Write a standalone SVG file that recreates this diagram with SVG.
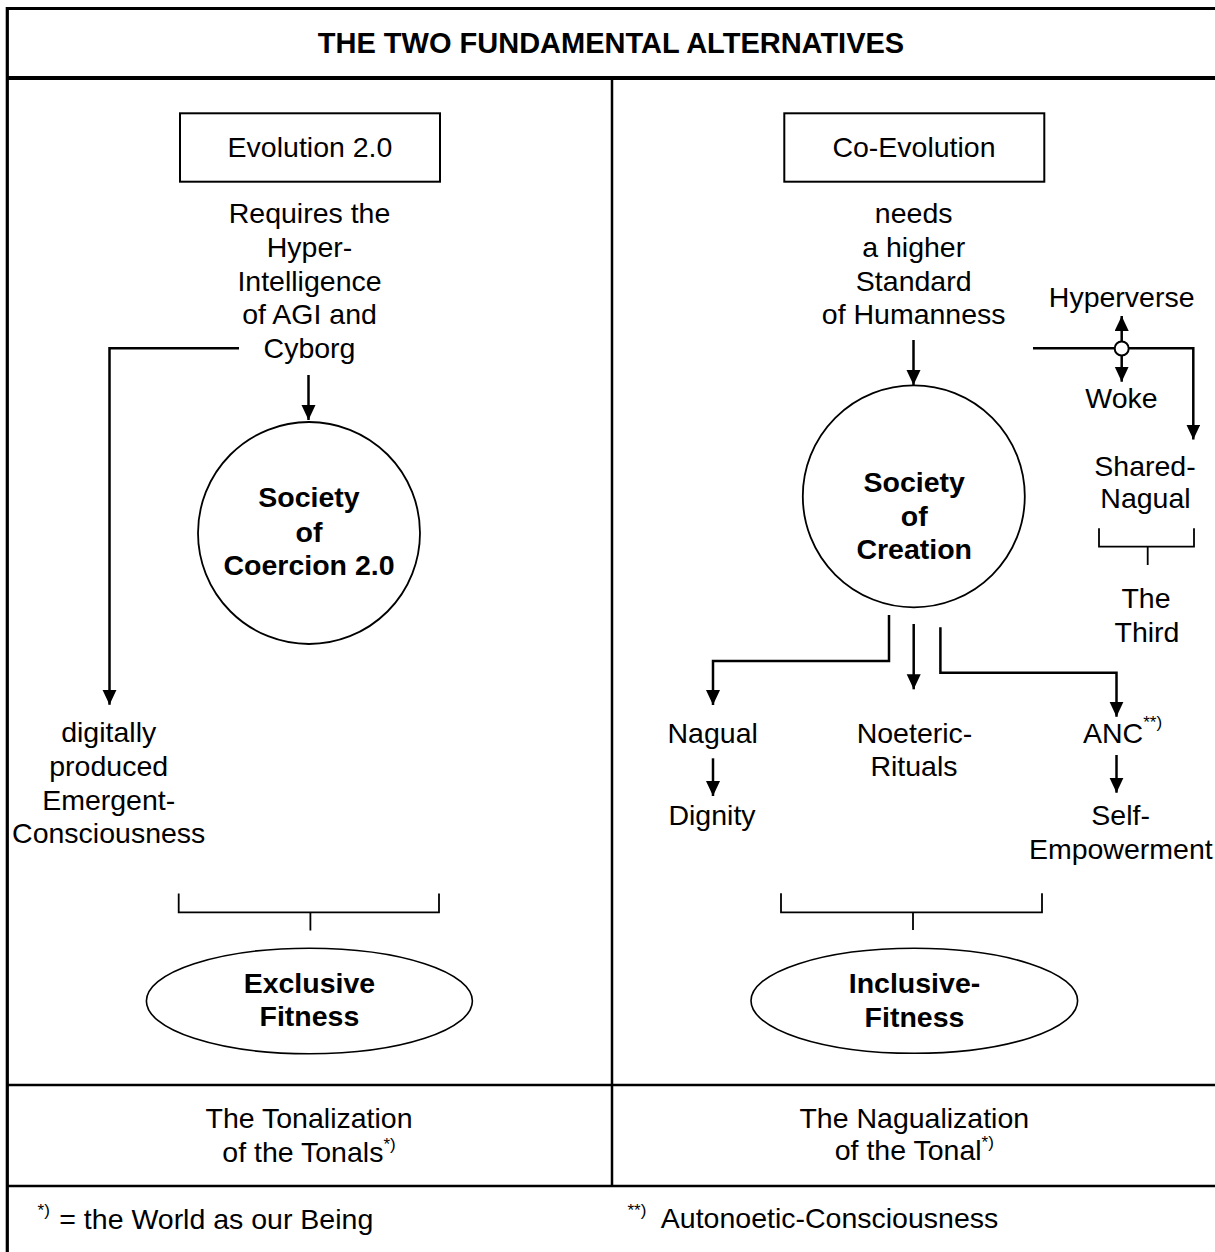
<svg xmlns="http://www.w3.org/2000/svg" width="1215" height="1252" viewBox="0 0 1215 1252">
<style>
text{font-family:"Liberation Sans",Arial,sans-serif;font-size:28.5px;fill:#000;text-anchor:middle}
.b{font-weight:bold}
.t{font-weight:bold;font-size:29px}
.l{text-anchor:start}
.sup{font-size:17px}
.frame{fill:none;stroke:#000}
.c{fill:none;stroke:#000;stroke-width:2.5}
.br{fill:none;stroke:#000;stroke-width:1.8}
.box{fill:#fff;stroke:#000;stroke-width:2}
.circ{fill:#fff;stroke:#000;stroke-width:1.8}
.ell{fill:#fff;stroke:#000;stroke-width:1.6}
</style>
<defs>
<marker id="ah" markerUnits="userSpaceOnUse" markerWidth="16" markerHeight="16" refX="15" refY="7" orient="auto">
<path d="M0,0 L15,7 L0,14 z" fill="#000"/>
</marker>
</defs>
<rect width="1215" height="1252" fill="#fff"/>
<g id="frame">
<path class="frame" stroke-width="3.2" d="M7.3,1252 V8.5 H1215"/>
<path class="frame" stroke-width="4" d="M7,78 H1215"/>
<path class="frame" stroke-width="2.5" d="M612,78 V1186"/>
<path class="frame" stroke-width="2.5" d="M7,1085 H1215"/>
<path class="frame" stroke-width="2.5" d="M7,1186 H1215"/>
</g>
<g id="title"><text class="t" x="611" y="53">THE TWO FUNDAMENTAL ALTERNATIVES</text></g>

<g id="connectors">
<path class="c" d="M239,348.3 H109.5 V704.8" marker-end="url(#ah)"/>
<path class="c" d="M308.5,375 V420" marker-end="url(#ah)"/>
<path class="c" d="M913.5,340 V385" marker-end="url(#ah)"/>
<path class="c" d="M1033,348.3 H1193.3 V439.5" marker-end="url(#ah)"/>
<path class="c" d="M1121.7,341.5 V316" marker-end="url(#ah)"/>
<path class="c" d="M1121.7,355.5 V381.7" marker-end="url(#ah)"/>
<path class="c" d="M889,615 V661 H713 V705" marker-end="url(#ah)"/>
<path class="c" d="M913.7,624 V689.3" marker-end="url(#ah)"/>
<path class="c" d="M940.4,627.3 V672.7 H1116.5 V716.7" marker-end="url(#ah)"/>
<path class="c" d="M713,758.3 V796" marker-end="url(#ah)"/>
<path class="c" d="M1116.5,755 V792.7" marker-end="url(#ah)"/>
<path class="br" d="M178.7,893.4 V912.4 H439 V893.4 M310.4,912.4 V930.6"/>
<path class="br" d="M781,893.3 V912.3 H1042 V893.3 M913,912.3 V930"/>
<path class="br" d="M1099,528.3 V546.7 H1194 V528.3 M1147.7,546.7 V565"/>
<circle cx="1121.7" cy="348.5" r="7" fill="#fff" stroke="#000" stroke-width="2"/>
</g>

<g id="evolution">
<rect class="box" x="180" y="113.3" width="260" height="68.4"/>
<text x="310" y="157">Evolution 2.0</text>
</g>
<g id="requires">
<text x="309.5" y="222.7">Requires the</text>
<text x="309.5" y="256.6">Hyper-</text>
<text x="309.5" y="290.5">Intelligence</text>
<text x="309.5" y="324.4">of AGI and</text>
<text x="309.5" y="358.3">Cyborg</text>
</g>
<g id="coercion">
<circle class="circ" cx="309" cy="533" r="111"/>
<text class="b" x="309" y="506.7">Society</text>
<text class="b" x="309" y="541.7">of</text>
<text class="b" x="309" y="575">Coercion 2.0</text>
</g>
<g id="emergent">
<text x="108.7" y="742">digitally</text>
<text x="108.7" y="775.8">produced</text>
<text x="108.7" y="809.6">Emergent-</text>
<text x="108.7" y="843.4">Consciousness</text>
</g>
<g id="exclusive">
<ellipse class="ell" cx="309.4" cy="1001" rx="163" ry="52.8"/>
<text class="b" x="309.4" y="992.5">Exclusive</text>
<text class="b" x="309.4" y="1026.3">Fitness</text>
</g>
<g id="tonalization">
<text x="309" y="1128">The Tonalization</text>
<text x="309" y="1161.6">of the Tonals<tspan class="sup" dy="-12">*)</tspan></text>
</g>

<g id="coevolution">
<rect class="box" x="784.3" y="113.3" width="260" height="68.4"/>
<text x="914" y="157">Co-Evolution</text>
</g>
<g id="needs">
<text x="913.7" y="222.7">needs</text>
<text x="913.7" y="256.6">a higher</text>
<text x="913.7" y="290.5">Standard</text>
<text x="913.7" y="324.4">of Humanness</text>
</g>
<g id="hyperverse"><text x="1121.7" y="306.7">Hyperverse</text></g>
<g id="woke"><text x="1121.5" y="408.3">Woke</text></g>
<g id="shared-nagual">
<text x="1145" y="476">Shared-</text>
<text x="1145.5" y="507.5">Nagual</text>
</g>
<g id="the-third">
<text x="1146" y="608.3">The</text>
<text x="1147" y="641.7">Third</text>
</g>
<g id="creation">
<circle class="circ" cx="913.8" cy="496.3" r="111"/>
<text class="b" x="914.2" y="491.7">Society</text>
<text class="b" x="914.2" y="525.7">of</text>
<text class="b" x="914.2" y="559">Creation</text>
</g>
<g id="nagual"><text x="712.7" y="742.7">Nagual</text></g>
<g id="dignity"><text x="712" y="825">Dignity</text></g>
<g id="noeteric">
<text x="914.5" y="742.7">Noeteric-</text>
<text x="914" y="776">Rituals</text>
</g>
<g id="anc"><text class="l" x="1083" y="742.7">ANC<tspan class="sup" dy="-14.5">**)</tspan></text></g>
<g id="self-empowerment">
<text x="1120.6" y="825">Self-</text>
<text x="1120.8" y="859.3">Empowerment</text>
</g>
<g id="inclusive">
<ellipse class="ell" cx="914.3" cy="1000.8" rx="163.3" ry="52.5"/>
<text class="b" x="914.5" y="992.5">Inclusive-</text>
<text class="b" x="914.5" y="1026.5">Fitness</text>
</g>
<g id="nagualization">
<text x="914.3" y="1128.3">The Nagualization</text>
<text x="914.3" y="1160">of the Tonal<tspan class="sup" dy="-12">*)</tspan></text>
</g>
<g id="footnotes">
<text class="l" x="37.6" y="1216"><tspan class="sup">*)</tspan></text>
<text class="l" x="59.3" y="1229">= the World as our Being</text>
<text class="l" x="627.5" y="1216"><tspan class="sup">**)</tspan></text>
<text class="l" x="660.8" y="1228.3">Autonoetic-Consciousness</text>
</g>
</svg>
